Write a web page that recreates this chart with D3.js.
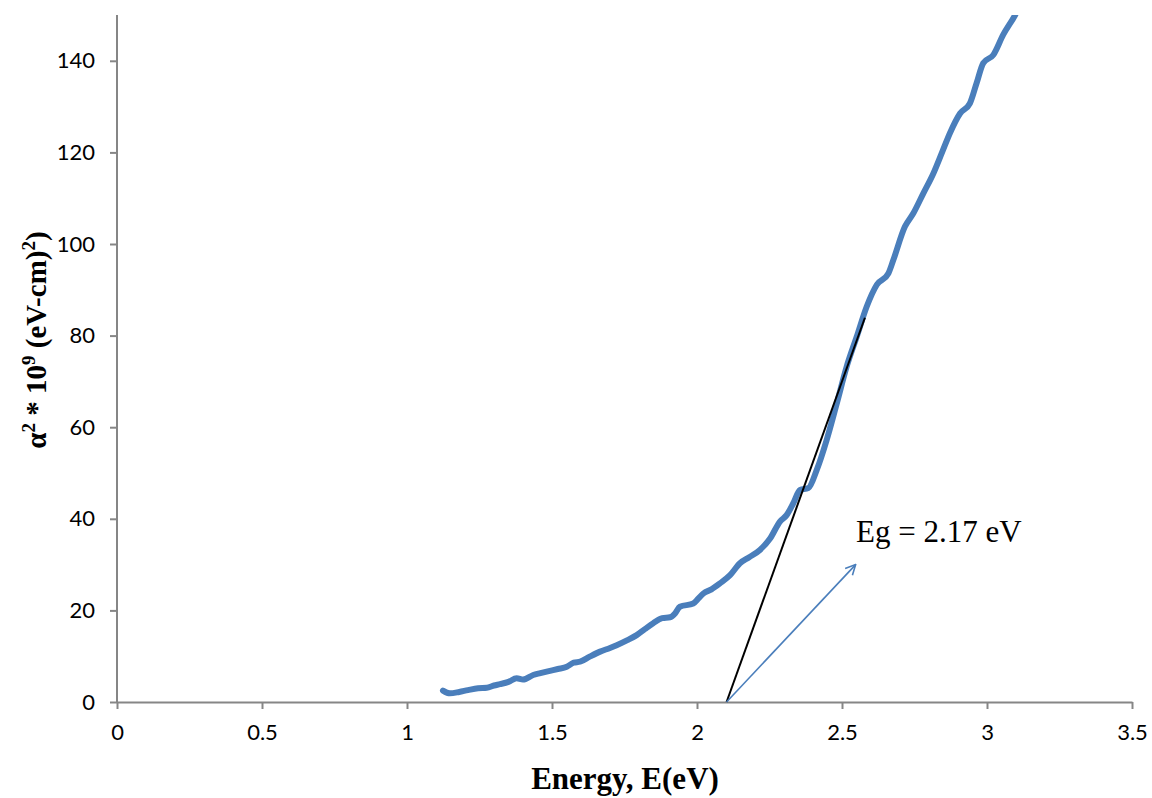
<!DOCTYPE html>
<html>
<head>
<meta charset="utf-8">
<script src="https://cdn.jsdelivr.net/npm/d3@7"></script>
<style>
  body { margin: 0; background: #fff; }
  svg { display: block; }
</style>
</head>
<body>
<div id="chart"></div>
<script>
// absorption curve (energy in eV, alpha^2 * 1e9)
const energy = [1.124, 1.148, 1.18, 1.21, 1.245, 1.275, 1.30, 1.321, 1.35, 1.378, 1.40, 1.435, 1.46, 1.493,
  1.52, 1.551, 1.575, 1.597, 1.63, 1.666, 1.70, 1.723, 1.76, 1.792, 1.82, 1.849, 1.88, 1.907, 1.925, 1.941,
  1.987, 2.005, 2.022, 2.05, 2.079, 2.114, 2.148, 2.18, 2.217, 2.252, 2.286, 2.309, 2.332, 2.355, 2.384,
  2.413, 2.447, 2.482, 2.516, 2.551, 2.585, 2.620, 2.660, 2.677, 2.717, 2.746, 2.78, 2.815, 2.845, 2.872,
  2.907, 2.941, 2.964, 2.987, 3.022, 3.056, 3.097, 3.12];
const alphaSq = [2.5, 1.9, 2.2, 2.6, 3.0, 3.1, 3.6, 3.9, 4.4, 5.2, 4.9, 5.9, 6.3, 6.8,
  7.2, 7.7, 8.6, 8.8, 9.9, 11.0, 11.8, 12.4, 13.5, 14.6, 15.9, 17.2, 18.3, 18.5, 19.4, 20.8,
  21.5, 22.6, 23.7, 24.6, 25.9, 27.7, 30.3, 31.6, 33.2, 35.7, 39.4, 40.8, 43.4, 46.3, 46.7,
  50.7, 57.2, 65.2, 73.2, 79.8, 86.3, 91.1, 93.6, 96.5, 103.8, 106.7, 111.0, 115.4, 120.0, 124.2,
  128.5, 130.7, 135.1, 139.5, 141.3, 145.7, 150.0, 153.0];

// tangent (extrapolation) line and the pointer arrow
const tangentX = [2.102, 2.579];
const tangentY = [0, 83.9];
const arrowX = [2.102, 2.547];
const arrowY = [0, 30.0];

const xTicks = [0, 0.5, 1, 1.5, 2, 2.5, 3, 3.5];
const yTicks = [0, 20, 40, 60, 80, 100, 120, 140];

const width = 1152, height = 798;
const margin = {top: 15, right: 20, bottom: 96, left: 117};

const svg = d3.select("#chart").append("svg")
    .attr("width", width)
    .attr("height", height);

const x = d3.scaleLinear().domain([0, 3.5]).range([margin.left, 1132]);
const y = d3.scaleLinear().domain([0, 150]).range([702, margin.top]);

const axisColor = "#868686";

// x axis
const gx = svg.append("g")
    .attr("transform", `translate(0,${y(0)})`)
    .call(d3.axisBottom(x).tickValues(xTicks).tickSize(7).tickSizeOuter(0)
        .tickFormat(d => String(d)));
// y axis
const gy = svg.append("g")
    .attr("transform", `translate(${x(0)},0)`)
    .call(d3.axisLeft(y).tickValues(yTicks).tickSize(7).tickSizeOuter(0));

[gx, gy].forEach(g => {
    g.select(".domain").attr("stroke", axisColor).attr("stroke-width", 2);
    g.selectAll(".tick line").attr("stroke", axisColor).attr("stroke-width", 2);
    g.selectAll(".tick text")
        .attr("fill", "#000")
        .style("font-family", "Lato, 'Open Sans', sans-serif")
        .style("font-size", "22px");
});
gx.selectAll(".tick text").attr("dy", "1.25em");
gy.selectAll(".tick text").attr("x", -22);
// y domain should extend to the top (150)
gy.select(".domain").attr("d", `M0,${y(150)}V${y(0)}`);

// clip the curve at the top of the plot
svg.append("clipPath").attr("id", "plotclip")
  .append("rect")
    .attr("x", x(0)).attr("y", y(150))
    .attr("width", x(3.5) - x(0)).attr("height", y(0) - y(150));

const pts = energy.map((e, i) => [e, alphaSq[i]]);
const line = d3.line()
    .x(d => x(d[0]))
    .y(d => y(d[1]))
    .curve(d3.curveMonotoneX);

svg.append("path")
    .datum(pts)
    .attr("clip-path", "url(#plotclip)")
    .attr("fill", "none")
    .attr("stroke", "#4a7ebb")
    .attr("stroke-width", 6)
    .attr("stroke-linecap", "round")
    .attr("stroke-linejoin", "round")
    .attr("d", line);

// tangent line
svg.append("line")
    .attr("x1", x(tangentX[0])).attr("y1", y(tangentY[0]))
    .attr("x2", x(tangentX[1])).attr("y2", y(tangentY[1]))
    .attr("stroke", "#000")
    .attr("stroke-width", 2);

// arrow with open head
svg.append("defs").append("marker")
    .attr("id", "openArrow")
    .attr("viewBox", "0 0 12 12")
    .attr("refX", 11).attr("refY", 6)
    .attr("markerWidth", 12).attr("markerHeight", 12)
    .attr("markerUnits", "userSpaceOnUse")
    .attr("orient", "auto")
  .append("path")
    .attr("d", "M1,1 L11,6 L1,11")
    .attr("fill", "none")
    .attr("stroke", "#4a7ebb")
    .attr("stroke-width", 1.6);

svg.append("line")
    .attr("x1", x(arrowX[0])).attr("y1", y(arrowY[0]))
    .attr("x2", x(arrowX[1])).attr("y2", y(arrowY[1]))
    .attr("stroke", "#4a7ebb")
    .attr("stroke-width", 1.6)
    .attr("marker-end", "url(#openArrow)");

// annotation
svg.append("text")
    .attr("x", 856).attr("y", 542)
    .style("font-family", "'Liberation Serif', 'Times New Roman', serif")
    .style("font-size", "31px")
    .text("Eg = 2.17 eV");

// axis titles
svg.append("text")
    .attr("x", 625).attr("y", 789)
    .attr("text-anchor", "middle")
    .style("font-family", "'Liberation Serif', 'Times New Roman', serif")
    .style("font-weight", "bold")
    .style("font-size", "31px")
    .text("Energy, E(eV)");

const yTitle = svg.append("text")
    .attr("transform", "translate(46,340) rotate(-90)")
    .attr("text-anchor", "middle")
    .style("font-family", "'Liberation Serif', 'Times New Roman', serif")
    .style("font-weight", "bold")
    .style("font-size", "29px");
yTitle.append("tspan").text("\u03b1");
yTitle.append("tspan").attr("dy", -11).style("font-size", "19px").text("2");
yTitle.append("tspan").attr("dy", 11).text(" * 10");
yTitle.append("tspan").attr("dy", -11).style("font-size", "19px").text("9");
yTitle.append("tspan").attr("dy", 11).text(" (eV-cm)");
yTitle.append("tspan").attr("dy", -11).style("font-size", "19px").text("2");
yTitle.append("tspan").attr("dy", 11).text(")");
</script>
</body>
</html>
